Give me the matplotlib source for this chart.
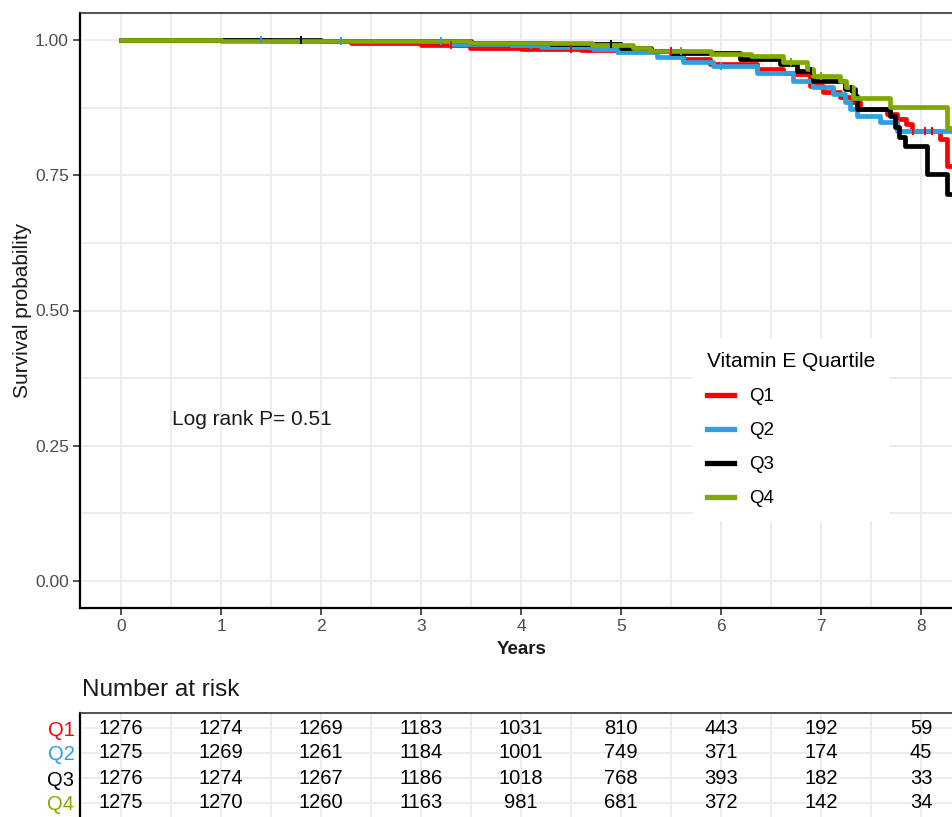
import numpy as np
import matplotlib
matplotlib.use("Agg")
import matplotlib.pyplot as plt
from matplotlib.ticker import MultipleLocator

plt.rcParams['font.family'] = ['Liberation Sans', 'DejaVu Sans']

# Kaplan-Meier steps (years, survival)
q1_t = [0, 1.5, 2.3, 3.0, 3.49, 4.0, 4.6, 5.2, 5.62, 5.89, 6.36, 6.62, 6.72, 6.89, 7.02, 7.19, 7.31, 7.39, 7.66, 7.76, 7.85, 7.91, 8.19, 8.26]
q1_s = [1.0, 0.999, 0.995, 0.991, 0.986, 0.984, 0.982, 0.980, 0.965, 0.956, 0.946, 0.940, 0.937, 0.915, 0.904, 0.895, 0.886, 0.873, 0.863, 0.854, 0.845, 0.832, 0.817, 0.767]
q2_t = [0, 1.5, 2.3, 3.3, 3.9, 4.2, 4.72, 4.96, 5.36, 5.62, 5.92, 6.36, 6.72, 6.92, 7.12, 7.24, 7.29, 7.36, 7.59, 7.76]
q2_s = [1.0, 0.999, 0.998, 0.993, 0.990, 0.987, 0.984, 0.978, 0.968, 0.959, 0.952, 0.940, 0.924, 0.913, 0.900, 0.886, 0.873, 0.860, 0.848, 0.832]
q3_t = [0, 2.0, 3.5, 4.3, 5.0, 5.3, 5.5, 6.19, 6.59, 6.76, 6.92, 7.24, 7.34, 7.36, 7.69, 7.74, 7.78, 7.84, 8.06, 8.26]
q3_s = [1.0, 0.999, 0.995, 0.992, 0.985, 0.980, 0.976, 0.965, 0.956, 0.943, 0.925, 0.910, 0.897, 0.873, 0.860, 0.840, 0.820, 0.805, 0.753, 0.716]
q4_t = [0, 1.0, 2.5, 3.49, 4.71, 5.12, 5.29, 5.9, 6.3, 6.62, 6.86, 6.92, 7.19, 7.25, 7.32, 7.69, 8.26]
q4_s = [1.0, 0.999, 0.998, 0.994, 0.990, 0.985, 0.980, 0.974, 0.970, 0.960, 0.946, 0.934, 0.925, 0.913, 0.893, 0.877, 0.838]

# censored times
q1_c = [3.3, 4.5, 5.5, 7.92, 8.04, 8.11]
q2_c = [1.4, 2.2, 3.2, 4.1, 6.0]
q3_c = [1.8, 4.9, 6.9, 7.3]
q4_c = [5.6, 6.7, 7.0]

groups = ['Q1', 'Q2', 'Q3', 'Q4']
colors = ['#FF0000', '#2E9FDF', '#000000', '#80A800']

risk_times = [0, 1, 2, 3, 4, 5, 6, 7, 8]
risk_q1 = [1276, 1274, 1269, 1183, 1031, 810, 443, 192, 59]
risk_q2 = [1275, 1269, 1261, 1184, 1001, 749, 371, 174, 45]
risk_q3 = [1276, 1274, 1267, 1186, 1018, 768, 393, 182, 33]
risk_q4 = [1275, 1270, 1260, 1163, 981, 681, 372, 142, 34]

t_end = 8.4
xlim = (-0.41, 8.45)

W, H = 952, 817
fig = plt.figure(figsize=(W / 100, H / 100), dpi=100)
ax = fig.add_axes([80 / W, 1 - 608 / H, 886 / W, 595 / H])

curves = [(q1_t, q1_s, q1_c), (q2_t, q2_s, q2_c), (q3_t, q3_s, q3_c), (q4_t, q4_s, q4_c)]
for (t, s, c), g, col in zip(curves, groups, colors):
    tt = list(t) + [t_end]
    ss = list(s) + [s[-1]]
    ax.step(tt, ss, where='post', color=col, lw=3.4, label=g, zorder=3)
    idx = np.searchsorted(t, c, side='right') - 1
    ax.plot(c, np.array(s)[idx], ls='none', marker='|', ms=6, mew=1.4, color=col, zorder=4)

ax.set_xlim(*xlim)
ax.set_ylim(-0.05, 1.05)
ax.xaxis.set_major_locator(MultipleLocator(1))
ax.xaxis.set_minor_locator(MultipleLocator(0.5))
ax.yaxis.set_major_locator(MultipleLocator(0.25))
ax.yaxis.set_minor_locator(MultipleLocator(0.125))
ax.set_yticks([0, 0.25, 0.5, 0.75, 1.0])
ax.set_yticklabels(['0.00', '0.25', '0.50', '0.75', '1.00'])
ax.grid(which='both', color='#EBEBEB', lw=1.3, zorder=0)
ax.set_axisbelow(True)
ax.tick_params(which='major', direction='out', length=5, width=1.2, labelsize=12.5,
               labelcolor='#4D4D4D', color='#333333', pad=3)
ax.tick_params(which='minor', length=0)
for side in ['left', 'bottom']:
    ax.spines[side].set_linewidth(1.6)
    ax.spines[side].set_color('black')
ax.spines['top'].set_color('#333333')
ax.spines['top'].set_linewidth(1.2)
ax.spines['right'].set_visible(False)

ax.set_xlabel('Years', fontsize=13.5, fontweight='bold', color='#1a1a1a')
ax.xaxis.set_label_coords((4.01 - xlim[0]) / (xlim[1] - xlim[0]), -0.055)
ax.set_ylabel('Survival probability', fontsize=15, color='#1a1a1a')
ax.yaxis.set_label_coords(-0.054, 0.5)

ax.text(0.51, 0.299, 'Log rank P= 0.51', fontsize=15, va='center', ha='left', color='#1a1a1a')

leg = ax.legend(title='Vitamin E Quartile', loc='upper left',
                bbox_to_anchor=(693 / W, 1 - 338 / H), bbox_transform=fig.transFigure,
                fontsize=13.5, title_fontsize=15, frameon=True, fancybox=False,
                handlelength=1.45, handletextpad=0.8, labelspacing=0.9,
                borderpad=0.75, borderaxespad=0)
leg.get_frame().set_facecolor('white')
leg.get_frame().set_edgecolor('none')
leg.get_frame().set_alpha(1)
leg._legend_box.align = 'left'
for line in leg.get_lines():
    line.set_linewidth(3.8)

# number at risk table
tab = fig.add_axes([80 / W, 1 - 818 / H, 886 / W, 105 / H])
tab.set_xlim(*xlim)
tab.set_ylim(0.4, 4.6)
rows = [risk_q1, risk_q2, risk_q3, risk_q4]
for i, vals in enumerate(rows):
    yrow = 4 - i
    for tx, v in zip(risk_times, vals):
        tab.text(tx, yrow, str(v), ha='center', va='center', fontsize=14.5, color='black')
tab.set_yticks([4, 3, 2, 1])
tab.set_yticklabels(groups)
for lbl, col in zip(tab.get_yticklabels(), colors):
    lbl.set_color(col)
tab.xaxis.set_major_locator(MultipleLocator(1))
tab.xaxis.set_minor_locator(MultipleLocator(0.5))
tab.grid(which='both', axis='x', color='#EBEBEB', lw=1.3)
tab.grid(which='major', axis='y', color='#EBEBEB', lw=1.3)
tab.tick_params(axis='y', length=0, labelsize=14.5, pad=4)
tab.tick_params(axis='x', which='both', length=0, labelbottom=False)
tab.spines['left'].set_linewidth(1.6)
tab.spines['top'].set_linewidth(1.2)
tab.spines['top'].set_color('#333333')
tab.spines['right'].set_visible(False)
tab.spines['bottom'].set_visible(False)
tab.set_axisbelow(True)

fig.text(82 / W, 1 - 690 / H, 'Number at risk', fontsize=17.5, va='center', ha='left', color='#1a1a1a')

fig.savefig('out.png', dpi=100, facecolor='white')
